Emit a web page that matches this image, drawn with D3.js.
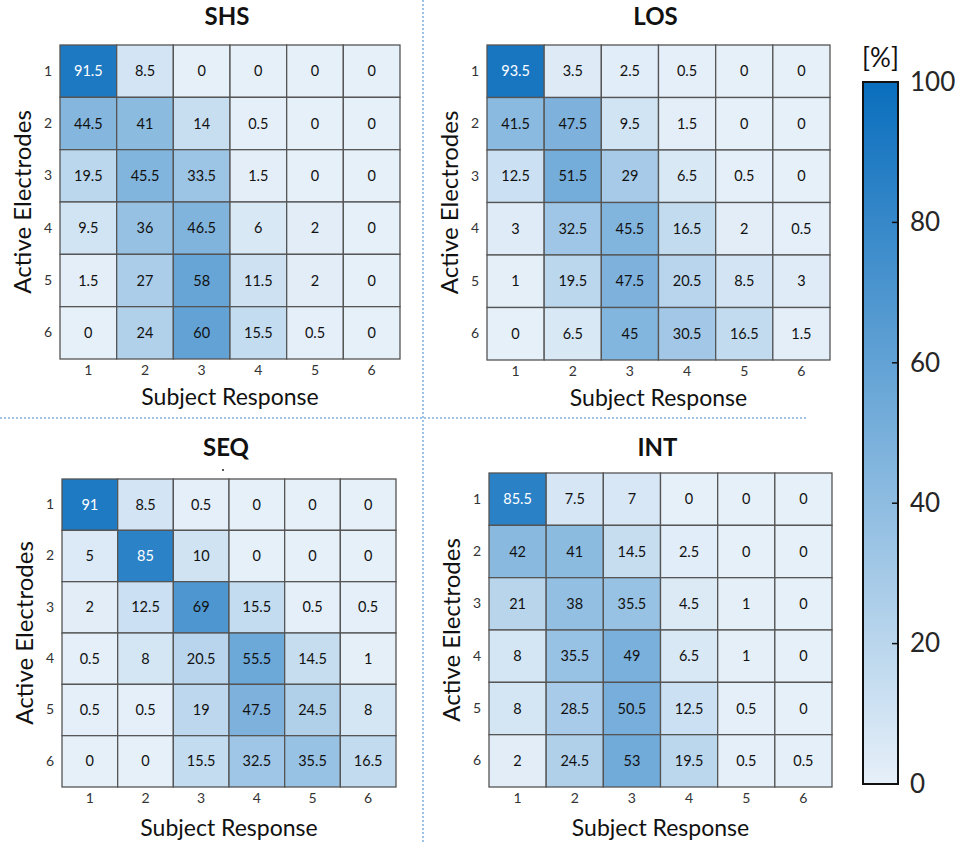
<!DOCTYPE html>
<html lang="en">
<head>
  <meta charset="UTF-8">
  <title>Confusion matrices</title>
  <style>
    body { margin: 0; background: #fff; }
    svg { display: block; font-family: Lato, "Open Sans", sans-serif; }
  </style>
</head>
<body>
  <div id="chart"></div>

  <script src="https://d3js.org/d3.v7.min.js"></script>
  <script>
    // categories on both axes
    const electrodes = [1, 2, 3, 4, 5, 6];
    const responses = [1, 2, 3, 4, 5, 6];

    // percentages, one row per active electrode count
    const shs = [
      [91.5, 8.5, 0, 0, 0, 0],
      [44.5, 41, 14, 0.5, 0, 0],
      [19.5, 45.5, 33.5, 1.5, 0, 0],
      [9.5, 36, 46.5, 6, 2, 0],
      [1.5, 27, 58, 11.5, 2, 0],
      [0, 24, 60, 15.5, 0.5, 0]
    ];
    const los = [
      [93.5, 3.5, 2.5, 0.5, 0, 0],
      [41.5, 47.5, 9.5, 1.5, 0, 0],
      [12.5, 51.5, 29, 6.5, 0.5, 0],
      [3, 32.5, 45.5, 16.5, 2, 0.5],
      [1, 19.5, 47.5, 20.5, 8.5, 3],
      [0, 6.5, 45, 30.5, 16.5, 1.5]
    ];
    const seq = [
      [91, 8.5, 0.5, 0, 0, 0],
      [5, 85, 10, 0, 0, 0],
      [2, 12.5, 69, 15.5, 0.5, 0.5],
      [0.5, 8, 20.5, 55.5, 14.5, 1],
      [0.5, 0.5, 19, 47.5, 24.5, 8],
      [0, 0, 15.5, 32.5, 35.5, 16.5]
    ];
    const intl = [
      [85.5, 7.5, 7, 0, 0, 0],
      [42, 41, 14.5, 2.5, 0, 0],
      [21, 38, 35.5, 4.5, 1, 0],
      [8, 35.5, 49, 6.5, 1, 0],
      [8, 28.5, 50.5, 12.5, 0.5, 0],
      [2, 24.5, 53, 19.5, 0.5, 0.5]
    ];
    const titles = ["SHS", "LOS", "SEQ", "INT"];
    const colorTicks = [0, 20, 40, 60, 80, 100];

    const W = 957, H = 844;
    const svg = d3.select("#chart").append("svg")
      .attr("width", W).attr("height", H);

    const color = d3.scaleLinear()
      .domain([0, 100])
      .range(["#e6f0f9", "#0a6ebd"]);

    // grid boxes for each panel
    const panels = [
      { name: titles[0], data: shs,  x0: 60,  x1: 400, y0: 45,  y1: 359 },
      { name: titles[1], data: los,  x0: 487, x1: 830, y0: 45,  y1: 360 },
      { name: titles[2], data: seq,  x0: 62,  x1: 396, y0: 479, y1: 787 },
      { name: titles[3], data: intl, x0: 489, x1: 832, y0: 473, y1: 787 }
    ];

    // dotted separators
    svg.append("line")
      .attr("x1", 0).attr("x2", 806).attr("y1", 418).attr("y2", 418)
      .attr("stroke", "#9dc3e6").attr("stroke-width", 2)
      .attr("stroke-dasharray", "2,2");
    svg.append("line")
      .attr("x1", 423).attr("x2", 423).attr("y1", 0).attr("y2", H)
      .attr("stroke", "#9dc3e6").attr("stroke-width", 2)
      .attr("stroke-dasharray", "2,2");

    panels.forEach((p, i) => {
      const g = svg.append("g");
      const x = d3.scaleBand().domain(responses).range([p.x0, p.x1]);
      const y = d3.scaleBand().domain(electrodes).range([p.y0, p.y1]);
      const top = i < 2;

      const cells = [];
      p.data.forEach((row, r) => row.forEach((v, c) => {
        cells.push({ e: electrodes[r], s: responses[c], v: v });
      }));

      g.selectAll("rect.cell")
        .data(cells)
        .enter().append("rect")
        .attr("class", "cell")
        .attr("x", d => x(d.s))
        .attr("y", d => y(d.e))
        .attr("width", x.bandwidth())
        .attr("height", y.bandwidth())
        .attr("fill", d => color(d.v))
        .attr("stroke", "#555")
        .attr("stroke-width", 1.3);

      g.selectAll("text.val")
        .data(cells)
        .enter().append("text")
        .attr("class", "val")
        .attr("x", d => x(d.s) + x.bandwidth() / 2)
        .attr("y", d => y(d.e) + y.bandwidth() / 2)
        .attr("dy", "0.35em")
        .attr("text-anchor", "middle")
        .attr("font-size", 14.5)
        .attr("fill", d => d.v > 75 ? "#fff" : "#111")
        .text(d => d.v);

      // axes without lines
      const ax = g.append("g")
        .attr("transform", `translate(0,${p.y1})`)
        .call(d3.axisBottom(x).tickSize(0).tickPadding(6));
      const ay = g.append("g")
        .attr("transform", `translate(${p.x0},0)`)
        .call(d3.axisLeft(y).tickSize(0).tickPadding(8));
      [ax, ay].forEach(a => {
        a.select(".domain").remove();
        a.selectAll("text")
          .attr("font-family", "Lato, sans-serif")
          .attr("font-size", 14)
          .attr("fill", "#333");
      });

      const cx = (p.x0 + p.x1) / 2;
      const cy = (p.y0 + p.y1) / 2;

      g.append("text")
        .attr("x", cx - 3)
        .attr("y", top ? 25 : 456)
        .attr("text-anchor", "middle")
        .attr("font-size", 24)
        .attr("font-weight", "bold")
        .attr("fill", "#111")
        .text(p.name);

      g.append("text")
        .attr("x", cx)
        .attr("y", p.y1 + (top ? 46 : 49))
        .attr("text-anchor", "middle")
        .attr("font-size", 23)
        .attr("fill", "#111")
        .text("Subject Response");

      g.append("text")
        .attr("transform", `translate(${p.x0 - 29},${cy}) rotate(-90)`)
        .attr("text-anchor", "middle")
        .attr("font-size", 24)
        .attr("fill", "#111")
        .text("Active Electrodes");
    });

    // stray dot under the SEQ title
    svg.append("circle")
      .attr("cx", 223).attr("cy", 470).attr("r", 1)
      .attr("fill", "#222");

    // colour bar
    const cb = { x: 863, w: 35, y0: 82, y1: 784 };
    const cScale = d3.scaleLinear().domain([0, 100]).range([cb.y1, cb.y0]);

    const grad = svg.append("defs").append("linearGradient")
      .attr("id", "grad")
      .attr("x1", 0).attr("x2", 0).attr("y1", 1).attr("y2", 0);
    grad.selectAll("stop")
      .data(colorTicks)
      .enter().append("stop")
      .attr("offset", d => d / 100)
      .attr("stop-color", d => color(d));

    svg.append("rect")
      .attr("x", cb.x).attr("y", cb.y0)
      .attr("width", cb.w).attr("height", cb.y1 - cb.y0)
      .attr("fill", "url(#grad)")
      .attr("stroke", "#111").attr("stroke-width", 2);

    const cAxis = svg.append("g")
      .attr("transform", `translate(${cb.x + cb.w},0)`)
      .call(d3.axisRight(cScale).tickValues(colorTicks).tickSize(0).tickPadding(12));
    cAxis.select(".domain").remove();
    cAxis.selectAll("text")
      .attr("font-family", "Lato, sans-serif")
      .attr("font-size", 26)
      .attr("fill", "#262626");

    svg.selectAll("line.ctick")
      .data(colorTicks.slice(1, -1))
      .enter().append("line")
      .attr("class", "ctick")
      .attr("x1", cb.x + cb.w - 6).attr("x2", cb.x + cb.w)
      .attr("y1", d => cScale(d)).attr("y2", d => cScale(d))
      .attr("stroke", "#111").attr("stroke-width", 1.5);

    svg.append("text")
      .attr("x", cb.x + cb.w / 2)
      .attr("y", 67)
      .attr("text-anchor", "middle")
      .attr("font-size", 26)
      .attr("fill", "#111")
      .text("[%]");
  </script>
</body>
</html>
